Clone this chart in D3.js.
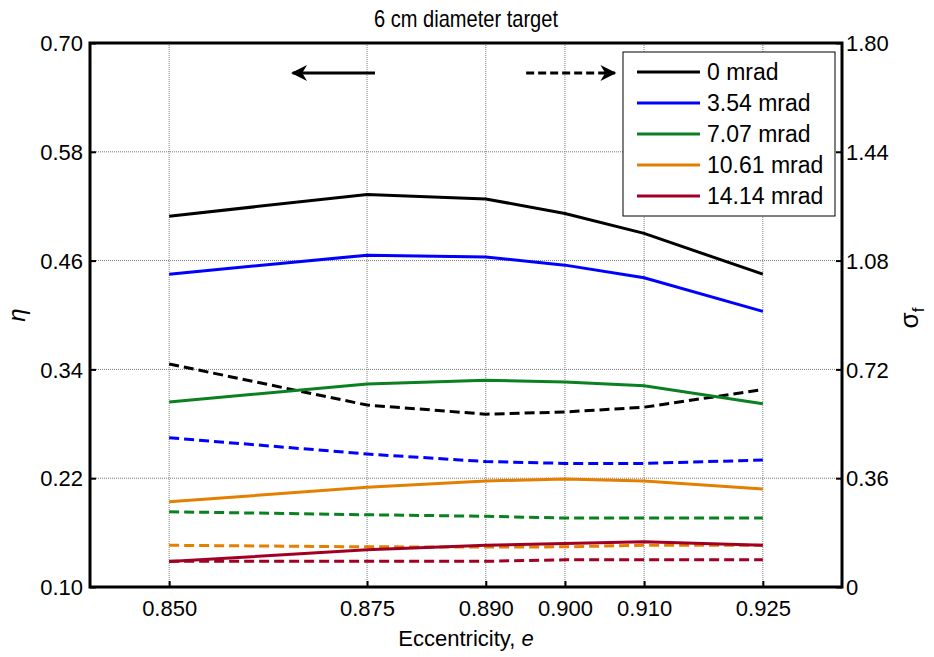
<!DOCTYPE html>
<html>
<head>
<meta charset="utf-8">
<script src="https://cdn.jsdelivr.net/npm/d3@7"></script>
<style>
  body { margin: 0; background: #fff; }
  text { font-family: Arial, "Liberation Sans", sans-serif; fill: #000; }
</style>
</head>
<body>
<svg id="chart" width="934" height="657"></svg>
<script>
// Data
const eccentricity = [0.850, 0.875, 0.890, 0.900, 0.910, 0.925];
const xTicks = [0.850, 0.875, 0.890, 0.900, 0.910, 0.925];
const etaTicks = [0.10, 0.22, 0.34, 0.46, 0.58, 0.70];
const sigmaTicks = [0, 0.36, 0.72, 1.08, 1.44, 1.80];
const seriesNames = ["0 mrad", "3.54 mrad", "7.07 mrad", "10.61 mrad", "14.14 mrad"];
const seriesColors = ["#000000", "#0000ff", "#0a8020", "#e47f00", "#a00024"];

// efficiency eta (solid, left axis)
const eta0 = [0.509, 0.533, 0.528, 0.512, 0.490, 0.445];
const eta1 = [0.445, 0.466, 0.464, 0.455, 0.441, 0.404];
const eta2 = [0.304, 0.324, 0.328, 0.326, 0.322, 0.302];
const eta3 = [0.194, 0.210, 0.217, 0.219, 0.217, 0.208];
const eta4 = [0.128, 0.141, 0.146, 0.148, 0.150, 0.146];

// sigma_f (dashed, right axis)
const sig0 = [0.738, 0.602, 0.572, 0.579, 0.595, 0.653];
const sig1 = [0.494, 0.440, 0.415, 0.409, 0.409, 0.420];
const sig2 = [0.249, 0.239, 0.234, 0.228, 0.228, 0.228];
const sig3 = [0.138, 0.133, 0.132, 0.133, 0.138, 0.138];
const sig4 = [0.085, 0.085, 0.085, 0.090, 0.090, 0.090];

const etaSeries = [eta0, eta1, eta2, eta3, eta4];
const sigSeries = [sig0, sig1, sig2, sig3, sig4];

const margin = {top: 43, right: 92, bottom: 70, left: 90};
const width = 934, height = 657;

const svg = d3.select("#chart");

const x = d3.scaleLinear().domain([0.84, 0.935]).range([margin.left, width - margin.right]);
const yL = d3.scaleLinear().domain([0.10, 0.70]).range([height - margin.bottom, margin.top]);
const yR = d3.scaleLinear().domain([0, 1.80]).range([height - margin.bottom, margin.top]);

const x0 = margin.left, x1 = width - margin.right;
const y0 = height - margin.bottom, y1 = margin.top;

// Grid
const grid = svg.append("g")
    .attr("stroke", "#7a7a7a")
    .attr("stroke-width", 1)
    .attr("stroke-dasharray", "1,1");
grid.selectAll(".vx")
    .data(xTicks)
    .join("line")
    .attr("x1", d => x(d)).attr("x2", d => x(d))
    .attr("y1", y1).attr("y2", y0);
grid.selectAll(".hy")
    .data(etaTicks.slice(1, -1))
    .join("line")
    .attr("x1", x0).attr("x2", x1)
    .attr("y1", d => yL(d)).attr("y2", d => yL(d));

// Lines
const lineL = d3.line().x((d, i) => x(eccentricity[i])).y(d => yL(d));
const lineR = d3.line().x((d, i) => x(eccentricity[i])).y(d => yR(d));

svg.append("g")
    .selectAll("path")
    .data(sigSeries)
    .join("path")
    .attr("fill", "none")
    .attr("stroke", (d, i) => seriesColors[i])
    .attr("stroke-width", 3)
    .attr("stroke-dasharray", "10,5")
    .attr("d", lineR);

svg.append("g")
    .selectAll("path")
    .data(etaSeries)
    .join("path")
    .attr("fill", "none")
    .attr("stroke", (d, i) => seriesColors[i])
    .attr("stroke-width", 3)
    .attr("d", lineL);

// Axes
const bottomAxis = svg.append("g")
    .attr("transform", `translate(0,${y0})`)
    .call(d3.axisBottom(x).tickValues(xTicks).tickFormat(d3.format(".3f")).tickSize(-6).tickPadding(13));
const leftAxis = svg.append("g")
    .attr("transform", `translate(${x0},0)`)
    .call(d3.axisLeft(yL).tickValues(etaTicks).tickFormat(d3.format(".2f")).tickSize(-6).tickPadding(7));
const rightAxis = svg.append("g")
    .attr("transform", `translate(${x1},0)`)
    .call(d3.axisRight(yR).tickValues(sigmaTicks).tickFormat(d => d === 0 ? "0" : d3.format(".2f")(d)).tickSize(-6).tickPadding(4));

[bottomAxis, leftAxis, rightAxis].forEach(g => {
    g.select(".domain").remove();
    g.selectAll(".tick line").attr("stroke", "#000").attr("stroke-width", 2);
    g.selectAll(".tick text").style("font-size", "22px").attr("font-family", null);
});
leftAxis.selectAll(".tick text").attr("dy", "0.35em");
rightAxis.selectAll(".tick text").attr("dy", "0.35em");

// Frame
svg.append("rect")
    .attr("x", x0).attr("y", y1)
    .attr("width", x1 - x0).attr("height", y0 - y1)
    .attr("fill", "none")
    .attr("stroke", "#000")
    .attr("stroke-width", 3);

// Direction arrows
const arrowY = 73;
svg.append("defs").append("marker")
    .attr("id", "head")
    .attr("viewBox", "0 0 10 10")
    .attr("refX", 9).attr("refY", 5)
    .attr("markerWidth", 22).attr("markerHeight", 16)
    .attr("markerUnits", "userSpaceOnUse")
    .attr("orient", "auto")
    .append("path")
    .attr("d", "M0,0 L10,5 L0,10 L3,5 Z")
    .attr("fill", "#000");

svg.append("line")
    .attr("x1", x(0.8760)).attr("x2", x(0.8656))
    .attr("y1", arrowY).attr("y2", arrowY)
    .attr("stroke", "#000").attr("stroke-width", 3)
    .attr("marker-end", "url(#head)");
svg.append("line")
    .attr("x1", x(0.8951)).attr("x2", x(0.9063))
    .attr("y1", arrowY).attr("y2", arrowY)
    .attr("stroke", "#000").attr("stroke-width", 3)
    .attr("stroke-dasharray", "8,4")
    .attr("marker-end", "url(#head)");

// Legend
const legend = svg.append("g").attr("transform", "translate(623,52)");
legend.append("rect")
    .attr("width", 212).attr("height", 164)
    .attr("fill", "#fff").attr("stroke", "#000").attr("stroke-width", 1);
const item = legend.selectAll(".item")
    .data(seriesNames)
    .join("g")
    .attr("transform", (d, i) => `translate(0,${20 + i * 31})`);
item.append("line")
    .attr("x1", 14).attr("x2", 77)
    .attr("stroke", (d, i) => seriesColors[i])
    .attr("stroke-width", 3);
item.append("text")
    .attr("x", 84).attr("dy", "0.35em")
    .style("font-size", "23px")
    .text(d => d);

// Title (the reference uses a narrow face, so squeeze it)
svg.append("text")
    .attr("x", (x0 + x1) / 2).attr("y", 27)
    .attr("text-anchor", "middle")
    .attr("textLength", 184)
    .attr("lengthAdjust", "spacingAndGlyphs")
    .style("font-size", "24px")
    .text("6 cm diameter target");

const xl = svg.append("text")
    .attr("x", (x0 + x1) / 2).attr("y", 646)
    .attr("text-anchor", "middle")
    .style("font-size", "22px");
xl.append("tspan").text("Eccentricity, ");
xl.append("tspan").style("font-style", "italic").text("e");

svg.append("text")
    .attr("transform", "translate(25,315) rotate(-90)")
    .attr("text-anchor", "middle")
    .style("font-size", "24px")
    .style("font-style", "italic")
    .text("η");

const sl = svg.append("text")
    .attr("transform", "translate(918,318) rotate(-90)")
    .attr("text-anchor", "middle")
    .style("font-size", "26px");
sl.append("tspan").text("σ");
sl.append("tspan").attr("dy", 6).style("font-size", "17px").text("f");
</script>
</body>
</html>
